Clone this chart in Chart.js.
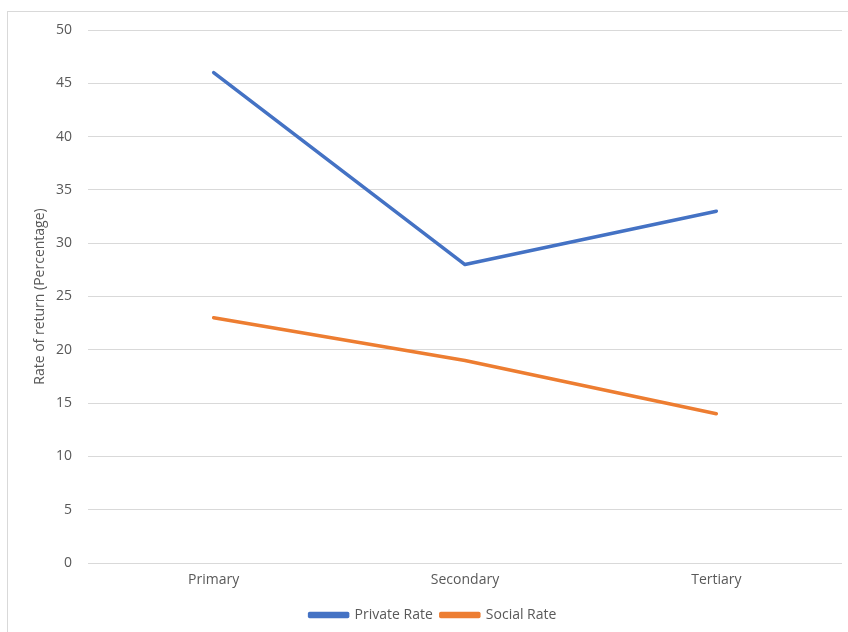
<!DOCTYPE html>
<html>
<head>
<meta charset="utf-8">
<script src="https://cdn.jsdelivr.net/npm/chart.js@4/dist/chart.umd.min.js"></script>
<style>
  html, body { margin: 0; padding: 0; background: #ffffff; overflow: hidden; }
  #wrap { position: relative; width: 848px; height: 632px; }
  #frame { position: absolute; left: 7px; top: 11px; width: 860px; height: 640px;
           border: 1px solid #d9d9d9; box-sizing: border-box; }
  #chart { position: absolute; left: 0; top: 0; }
</style>
</head>
<body>
<div id="wrap">
  <div id="frame"></div>
  <canvas id="chart" width="848" height="632"></canvas>
</div>
<script>
// Rates of return to education by level
const levels = ['Primary', 'Secondary', 'Tertiary'];
const privateRate = [46, 28, 33];
const socialRate = [23, 19, 14];
const yTicks = [0, 5, 10, 15, 20, 25, 30, 35, 40, 45, 50];

const FONT = '"Open Sans", "Noto Sans", sans-serif';
const TEXT = '#595959';

new Chart(document.getElementById('chart'), {
  type: 'line',
  data: {
    labels: levels,
    datasets: [
      { label: 'Private Rate', data: privateRate, borderColor: '#4472C4', backgroundColor: '#4472C4',
        borderWidth: 3.5, pointRadius: 0, tension: 0, borderCapStyle: 'round', borderJoinStyle: 'round' },
      { label: 'Social Rate', data: socialRate, borderColor: '#ED7D31', backgroundColor: '#ED7D31',
        borderWidth: 3.5, pointRadius: 0, tension: 0, borderCapStyle: 'round', borderJoinStyle: 'round' }
    ]
  },
  options: {
    responsive: false,
    animation: false,
    layout: { padding: { left: 24, right: 6, top: 30, bottom: 0 } },
    plugins: {
      tooltip: { enabled: false },
      legend: {
        position: 'bottom',
        labels: {
          boxWidth: 38, boxHeight: 3, padding: 8,
          color: TEXT, font: { family: FONT, size: 14 }
        }
      }
    },
    scales: {
      x: {
        offset: true,
        grid: { display: false, drawTicks: false },
        border: { display: false },
        ticks: { color: TEXT, font: { family: FONT, size: 14 }, padding: 9, maxRotation: 0 },
        afterFit: s => { s.height = 37; }
      },
      y: {
        min: 0, max: 50,
        afterBuildTicks: s => { s.ticks = yTicks.map(v => ({ value: v })); },
        grid: { color: '#d9d9d9', lineWidth: 1, drawTicks: false },
        border: { display: false },
        ticks: { color: TEXT, font: { family: FONT, size: 14 }, padding: 16 },
        title: { display: true, text: 'Rate of return (Percentage)', color: TEXT,
                 font: { family: FONT, size: 14 }, padding: { top: 8, bottom: 0 } },
        afterFit: s => { s.width = 64; }
      }
    }
  }
});
</script>
</body>
</html>
